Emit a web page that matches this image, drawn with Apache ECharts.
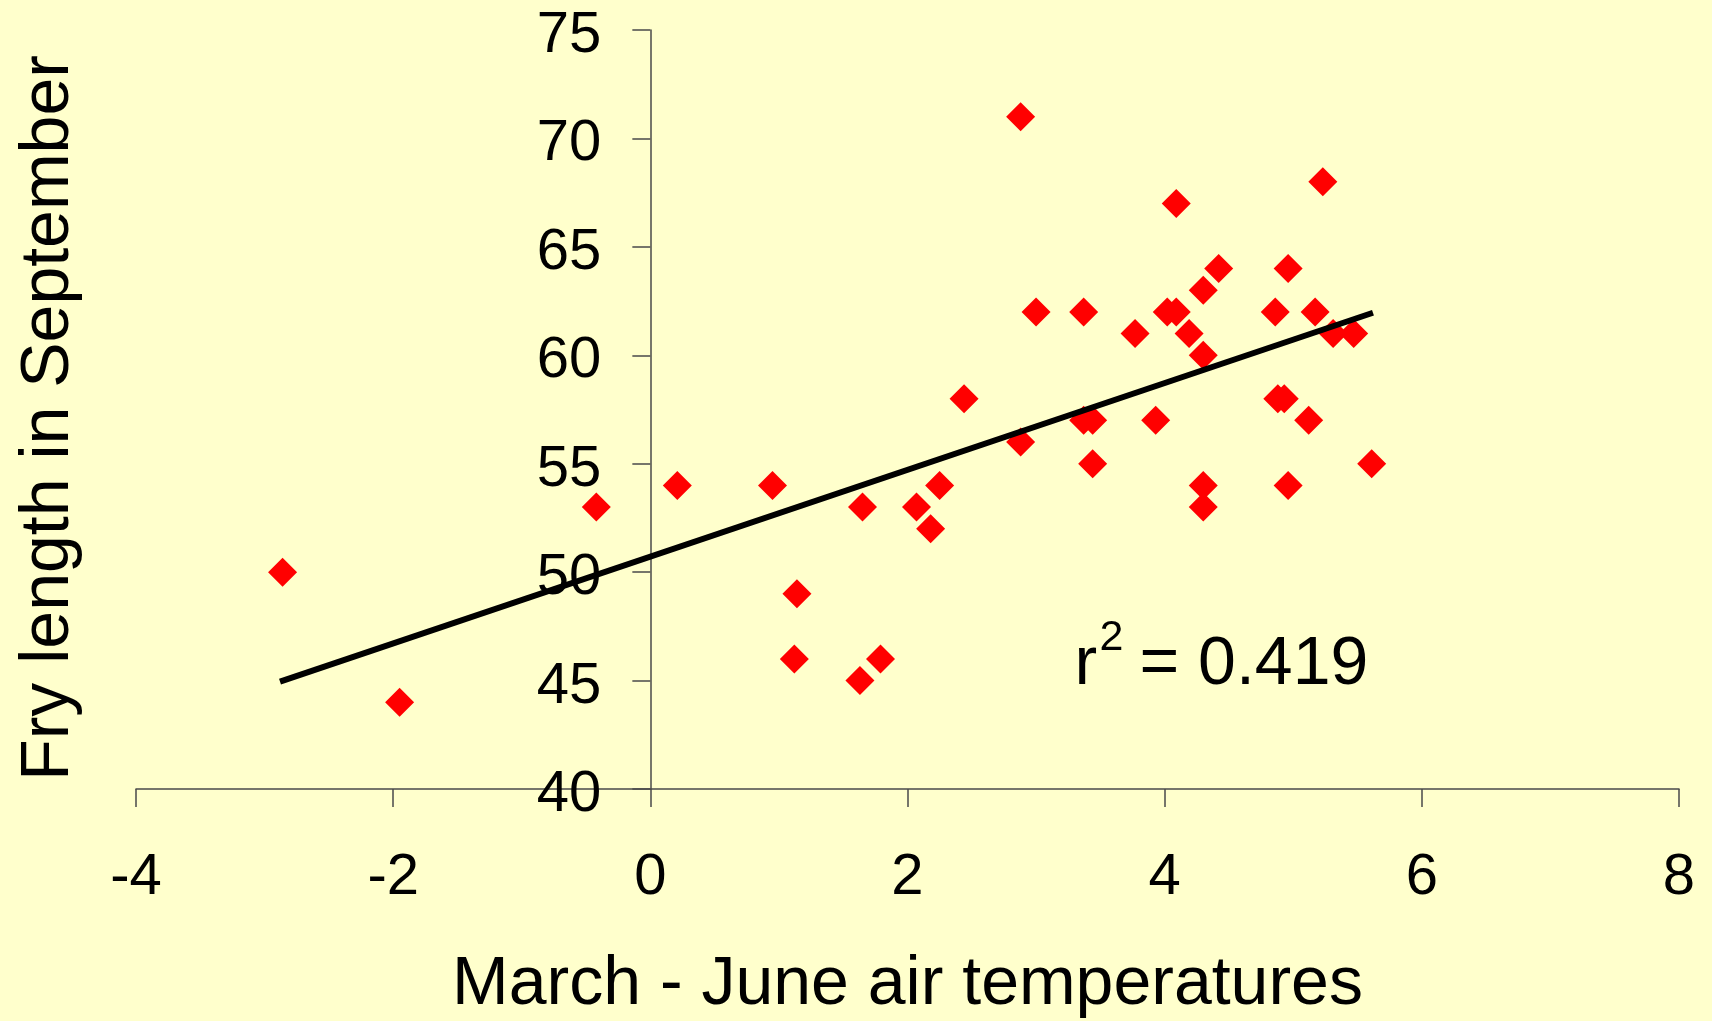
<!DOCTYPE html>
<html>
<head>
<meta charset="utf-8">
<script src="https://cdn.jsdelivr.net/npm/echarts@6.0.0/dist/echarts.min.js"></script>
<style>
html,body{margin:0;padding:0;background:#FFFFCC;}
#chart{width:1712px;height:1021px;}
</style>
</head>
<body>
<div id="chart"></div>
<script>
// ---- data ----
const tempX = [-2.86, -1.95, -0.42, 0.21, 0.95, 1.14, 1.12, 1.63, 1.79, 1.65,
               2.07, 2.18, 2.25, 2.44, 2.88, 2.88, 3.00, 3.37, 3.37, 3.44,
               3.44, 3.77, 3.93, 4.02, 4.09, 4.09, 4.19, 4.30, 4.30, 4.30,
               4.30, 4.42, 4.86, 4.88, 4.93, 4.96, 4.96, 5.12, 5.17, 5.23,
               5.31, 5.47, 5.61];
const fryLength = [50, 44, 53, 54, 54, 49, 46, 45, 46, 53,
                   53, 52, 54, 58, 71, 56, 62, 62, 57, 57,
                   55, 61, 57, 62, 62, 67, 61, 63, 60, 54,
                   53, 64, 62, 58, 58, 64, 54, 57, 62, 68,
                   61, 61, 55];
const trendX = [-2.88, 5.62];
const trendY = [44.95, 61.96];
const xTickLabels = ['-4', '-2', '0', '2', '4', '6', '8'];
const yTickLabels = ['40', '45', '50', '55', '60', '65', '70', '75'];
const xTitle = 'March - June air temperatures';
const yTitle = 'Fry length in September';
const rSquared = '0.419';

const FONT = '"Liberation Sans", Arial, Helvetica, sans-serif';
const chart = echarts.init(document.getElementById('chart'), null, {renderer: 'canvas'});

const points = tempX.map((x, i) => [x, fryLength[i]]);
const trend = trendX.map((x, i) => [x, trendY[i]]);

const GRID_LEFT = 136, GRID_RIGHT = 33;
const X_MIN = -4, X_MAX = 8;
// place the y axis where x = 0 (labels, ticks and line together)
const yAxisOffset = -((0 - X_MIN) / (X_MAX - X_MIN)) * (1712 - GRID_LEFT - GRID_RIGHT);

const option = {
  backgroundColor: '#FFFFCC',
  animation: false,
  grid: {left: GRID_LEFT, right: GRID_RIGHT, top: 30, bottom: 232, containLabel: false, outerBoundsMode: 'none'},
  xAxis: {
    type: 'value', min: X_MIN, max: X_MAX, interval: 2,
    name: xTitle, nameLocation: 'middle', nameGap: 162,
    nameTextStyle: {fontFamily: FONT, fontSize: 68, color: '#000'},
    axisLine: {show: true, onZero: false, lineStyle: {color: '#4a4a4a', width: 1.5}},
    axisTick: {show: true, length: 18, lineStyle: {color: '#4a4a4a', width: 1.5}},
    axisLabel: {fontFamily: FONT, fontSize: 58, color: '#000', margin: 60,
      formatter: v => xTickLabels[Math.round((v - X_MIN) / 2)]},
    splitLine: {show: false}
  },
  yAxis: {
    type: 'value', min: 40, max: 75, interval: 5, position: 'left', offset: yAxisOffset,
    axisLine: {show: true, onZero: false, lineStyle: {color: '#4a4a4a', width: 1.5}},
    axisTick: {show: true, length: 18, lineStyle: {color: '#4a4a4a', width: 1.5}},
    axisLabel: {fontFamily: FONT, fontSize: 58, color: '#000', margin: 49,
      verticalAlign: 'top', lineHeight: 12,
      formatter: v => yTickLabels[Math.round((v - 40) / 5)]},
    splitLine: {show: false}
  },
  series: [
    {
      type: 'scatter', data: points, symbol: 'diamond', symbolSize: 29,
      itemStyle: {color: '#FF0000', opacity: 1}, z: 2
    },
    {
      type: 'line', data: trend, showSymbol: false, symbol: 'none',
      lineStyle: {color: '#000', width: 6}, z: 3, silent: true
    }
  ],
  graphic: [
    {type: 'text', x: 49, y: 418, rotation: Math.PI / 2,
     style: {text: yTitle, font: '68px ' + FONT, fill: '#000', align: 'center', verticalAlign: 'middle'}},
    {type: 'text', x: 1074.5, y: 665,
     style: {text: 'r', font: '68px ' + FONT, fill: '#000', align: 'left', verticalAlign: 'middle'}},
    {type: 'text', x: 1099.5, y: 638,
     style: {text: '2', font: '43px ' + FONT, fill: '#000', align: 'left', verticalAlign: 'middle'}},
    {type: 'text', x: 1139.5, y: 665,
     style: {text: '= ' + rSquared, font: '68px ' + FONT, fill: '#000', align: 'left', verticalAlign: 'middle'}}
  ]
};
chart.setOption(option);
</script>
</body>
</html>
